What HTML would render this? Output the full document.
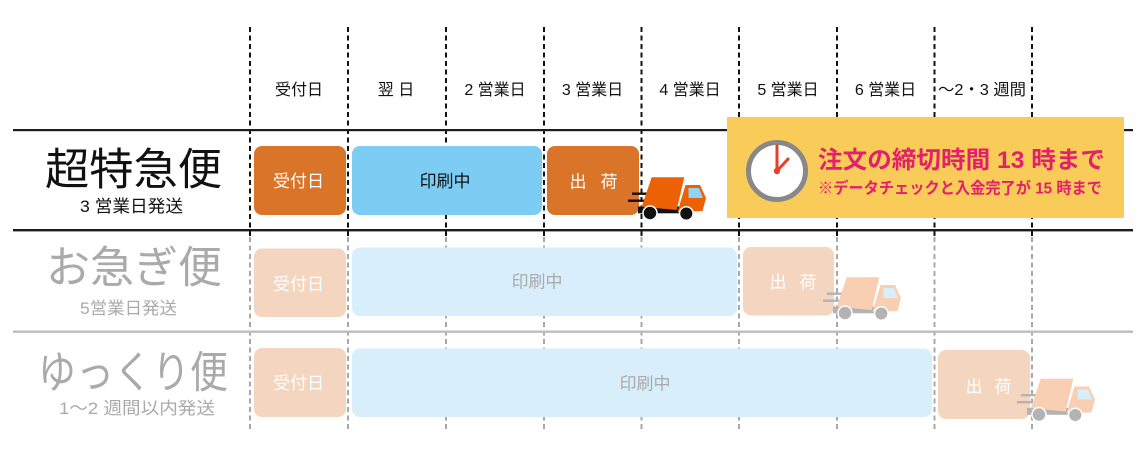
<!DOCTYPE html>
<html>
<head>
<meta charset="utf-8">
<style>
html,body{margin:0;padding:0;background:#fff;}
svg{display:block;}
</style>
</head>
<body>
<svg width="1147" height="466" viewBox="0 0 1147 466" xmlns="http://www.w3.org/2000/svg" font-family="'Liberation Sans','Noto Sans CJK JP',sans-serif">
  <defs>
    <g id="truckDark">
      <rect x="4" y="15.5" width="16" height="2.4" fill="#111"/>
      <rect x="0" y="22.5" width="17" height="2.4" fill="#111"/>
      <rect x="10" y="29.5" width="42" height="6.8" fill="#111"/>
      <polygon points="23.7,0.3 56.3,0.3 48.7,33 13.7,29.7" fill="#ec6103"/>
      <polygon points="57.5,8 72,8 78,21 74.5,34 49.5,35" fill="#ec6103"/>
      <polygon points="60.5,11 71,11 75,21 60.5,21" fill="#8fd3f4"/>
      <circle cx="22" cy="36" r="7" fill="#111" stroke="#fff" stroke-width="1.5"/>
      <circle cx="58.3" cy="36.5" r="6.8" fill="#111" stroke="#fff" stroke-width="1.5"/>
    </g>
    <g id="truckLight">
      <rect x="4" y="15.5" width="16" height="2.4" fill="#b3b3b3"/>
      <rect x="0" y="22.5" width="17" height="2.4" fill="#b3b3b3"/>
      <rect x="10" y="29.5" width="42" height="6.8" fill="#b3b3b3"/>
      <polygon points="23.7,0.3 56.3,0.3 48.7,33 13.7,29.7" fill="#f8cfb3"/>
      <polygon points="57.5,8 72,8 78,21 74.5,34 49.5,35" fill="#f8cfb3"/>
      <polygon points="60.5,11 71,11 75,21 60.5,21" fill="#d8eefa"/>
      <circle cx="22" cy="36" r="7" fill="#b3b3b3" stroke="#fff" stroke-width="1.5"/>
      <circle cx="58.3" cy="36.5" r="6.8" fill="#b3b3b3" stroke="#fff" stroke-width="1.5"/>
    </g>
  </defs>

  <!-- dashed vertical lines: black part -->
  <g stroke="#111" stroke-width="2" stroke-dasharray="5 3.5">
    <line x1="250" y1="27" x2="250" y2="236"/>
    <line x1="348" y1="27" x2="348" y2="236"/>
    <line x1="446" y1="27" x2="446" y2="236"/>
    <line x1="544" y1="27" x2="544" y2="236"/>
    <line x1="641.5" y1="27" x2="641.5" y2="236"/>
    <line x1="739" y1="27" x2="739" y2="236"/>
    <line x1="837" y1="27" x2="837" y2="236"/>
    <line x1="934.5" y1="27" x2="934.5" y2="236"/>
    <line x1="1032" y1="27" x2="1032" y2="236"/>
  </g>
  <!-- dashed vertical lines: gray part -->
  <g stroke="#a8a8a8" stroke-width="2" stroke-dasharray="5 3.5">
    <line x1="250" y1="237" x2="250" y2="430"/>
    <line x1="348" y1="237" x2="348" y2="430"/>
    <line x1="446" y1="237" x2="446" y2="430"/>
    <line x1="544" y1="237" x2="544" y2="430"/>
    <line x1="641.5" y1="237" x2="641.5" y2="430"/>
    <line x1="739" y1="237" x2="739" y2="430"/>
    <line x1="837" y1="237" x2="837" y2="430"/>
    <line x1="934.5" y1="237" x2="934.5" y2="430"/>
    <line x1="1032" y1="237" x2="1032" y2="430"/>
  </g>

  <!-- horizontal lines -->
  <rect x="13" y="129" width="1120" height="2.2" fill="#1c1c1c"/>
  <rect x="13" y="229" width="1120" height="2.4" fill="#1c1c1c"/>
  <rect x="13" y="330.5" width="1120" height="2.4" fill="#bdbdbd"/>

  <!-- header labels -->
  <g font-size="16" fill="#111" text-anchor="middle">
    <text x="299" y="95">受付日</text>
    <text x="396" y="95">翌 日</text>
    <text x="495" y="95">2 営業日</text>
    <text x="592.5" y="95">3 営業日</text>
    <text x="690" y="95">4 営業日</text>
    <text x="788" y="95">5 営業日</text>
    <text x="885.5" y="95">6 営業日</text>
    <text x="982" y="95" textLength="88" lengthAdjust="spacingAndGlyphs">〜2・3 週間</text>
  </g>

  <!-- row titles -->
  <text x="133.5" y="184.7" font-size="44" fill="#111" text-anchor="middle" textLength="177" lengthAdjust="spacingAndGlyphs">超特急便</text>
  <text x="131.5" y="212" font-size="17" fill="#111" text-anchor="middle" textLength="103" lengthAdjust="spacingAndGlyphs">3 営業日発送</text>

  <text x="134" y="282.7" font-size="44" fill="#aaaaaa" text-anchor="middle" textLength="176" lengthAdjust="spacingAndGlyphs">お急ぎ便</text>
  <text x="128.5" y="313.8" font-size="17" fill="#aaaaaa" text-anchor="middle" textLength="97" lengthAdjust="spacingAndGlyphs">5営業日発送</text>

  <text x="133" y="387.7" font-size="44" fill="#aaaaaa" text-anchor="middle" textLength="190" lengthAdjust="spacingAndGlyphs">ゆっくり便</text>
  <text x="137" y="413.8" font-size="17" fill="#aaaaaa" text-anchor="middle" textLength="156" lengthAdjust="spacingAndGlyphs">1～2 週間以内発送</text>

  <!-- row 1 boxes -->
  <rect x="254" y="146" width="92" height="69" rx="8" fill="#d97429"/>
  <rect x="352" y="146" width="190" height="69" rx="8" fill="#7dccf4"/>
  <rect x="547" y="146" width="92" height="69" rx="8" fill="#d97429"/>
  <text x="298.5" y="187" font-size="17" fill="#fff" text-anchor="middle">受付日</text>
  <text x="445" y="187" font-size="17" fill="#111" text-anchor="middle">印刷中</text>
  <text x="578" y="187.5" font-size="17" fill="#fff" text-anchor="middle">出</text>
  <text x="609" y="187.5" font-size="17" fill="#fff" text-anchor="middle">荷</text>

  <!-- row 2 boxes -->
  <rect x="254" y="248.5" width="92" height="68.5" rx="8" fill="#f4d6c0"/>
  <rect x="352" y="247.5" width="385" height="68.5" rx="8" fill="#d8effb"/>
  <rect x="743" y="247" width="91" height="68.5" rx="8" fill="#f4d6c0"/>
  <text x="298.5" y="290" font-size="17" fill="#fff" text-anchor="middle">受付日</text>
  <text x="537" y="287.5" font-size="17" fill="#aaaaaa" text-anchor="middle">印刷中</text>
  <text x="778" y="288" font-size="17" fill="#fff" text-anchor="middle">出</text>
  <text x="808" y="288" font-size="17" fill="#fff" text-anchor="middle">荷</text>

  <!-- row 3 boxes -->
  <rect x="254" y="348" width="92" height="69" rx="8" fill="#f4d6c0"/>
  <rect x="352" y="348.5" width="580" height="68.5" rx="8" fill="#d8effb"/>
  <rect x="938" y="350" width="92" height="69" rx="8" fill="#f4d6c0"/>
  <text x="298.5" y="389" font-size="17" fill="#fff" text-anchor="middle">受付日</text>
  <text x="645" y="389.5" font-size="17" fill="#aaaaaa" text-anchor="middle">印刷中</text>
  <text x="974" y="392.5" font-size="17" fill="#fff" text-anchor="middle">出</text>
  <text x="1003" y="392.5" font-size="17" fill="#fff" text-anchor="middle">荷</text>

  <!-- trucks -->
  <use href="#truckDark" x="628" y="177"/>
  <use href="#truckLight" x="823" y="277"/>
  <use href="#truckLight" x="1017" y="378.5"/>

  <!-- yellow deadline box -->
  <rect x="727" y="117" width="397" height="101" fill="#f9cb58"/>
  <circle cx="777" cy="171" r="28.5" fill="#fff" stroke="#888888" stroke-width="5"/>
  <line x1="777" y1="171" x2="777" y2="146" stroke="#e6402a" stroke-width="3" stroke-linecap="round"/>
  <line x1="777" y1="171" x2="788" y2="159" stroke="#e6402a" stroke-width="3" stroke-linecap="round"/>
  <circle cx="777" cy="171" r="3.2" fill="#e6402a"/>
  <text x="818" y="168" font-size="24" font-weight="bold" fill="#e3206b" textLength="287" lengthAdjust="spacingAndGlyphs">注文の締切時間 13 時まで</text>
  <text x="818" y="193.5" font-size="16" font-weight="bold" fill="#e3206b" textLength="284" lengthAdjust="spacingAndGlyphs">※データチェックと入金完了が 15 時まで</text>
</svg>
</body>
</html>
